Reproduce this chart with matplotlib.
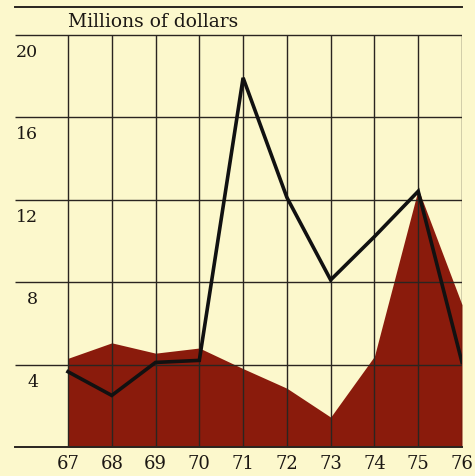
import matplotlib.pyplot as plt

years = [67, 68, 69, 70, 71, 72, 73, 74, 75, 76]
area_vals = [4.3, 5.05, 4.55, 4.8, 3.8, 2.85, 1.45, 4.4, 12.5, 6.9]
line_vals = [3.65, 2.5, 4.1, 4.2, 17.9, 12.1, 8.1, 10.2, 12.4, 4.1]
y_ticks = [4, 8, 12, 16, 20]
title = 'Millions of dollars'

bg = '#fcf8cc'
red = '#8a1b0c'
ink = '#2a2520'
txt = '#1c1814'

plt.rcParams['font.family'] = ['DejaVu Serif']

fig = plt.figure(figsize=(4.75, 4.76), dpi=100, facecolor=bg)
# axes spans from the top rule down to the zero line
ax = fig.add_axes([15 / 475, (476 - 447) / 476, (462 - 15) / 475, (447 - 7) / 476])
ax.set_facecolor(bg)

x_left = 67 - 53 / 43.8
y_top = 440 / 20.625
ax.set_xlim(x_left, 76)
ax.set_ylim(0, y_top)

ax.fill_between(years, area_vals, 0, color=red, lw=0, zorder=1)

ax.vlines(years, 0, 20, color=ink, lw=1.0, zorder=2)
ax.hlines(y_ticks, x_left, 76, color=ink, lw=1.0, zorder=2)

ax.plot(years, line_vals, color='#111111', lw=2.6, solid_joinstyle='miter', zorder=3)

for s in ['left', 'right']:
    ax.spines[s].set_visible(False)
ax.spines['top'].set_color(ink)
ax.spines['top'].set_linewidth(1.4)
ax.spines['bottom'].set_color(ink)
ax.spines['bottom'].set_linewidth(1.4)

ax.set_yticks([])
ax.set_xticks(years)
ax.set_xticklabels([str(y) for y in years], fontsize=13, color=txt)
ax.tick_params(axis='x', length=0, pad=6)

for v in y_ticks:
    ax.text(66.32, v - 0.87, str(v), ha='right', va='center', fontsize=12.5, color=txt)

ax.text(67, 20.62, title, ha='left', va='center', fontsize=13.5, color=txt)

fig.savefig('out.png', dpi=100, facecolor=bg)
